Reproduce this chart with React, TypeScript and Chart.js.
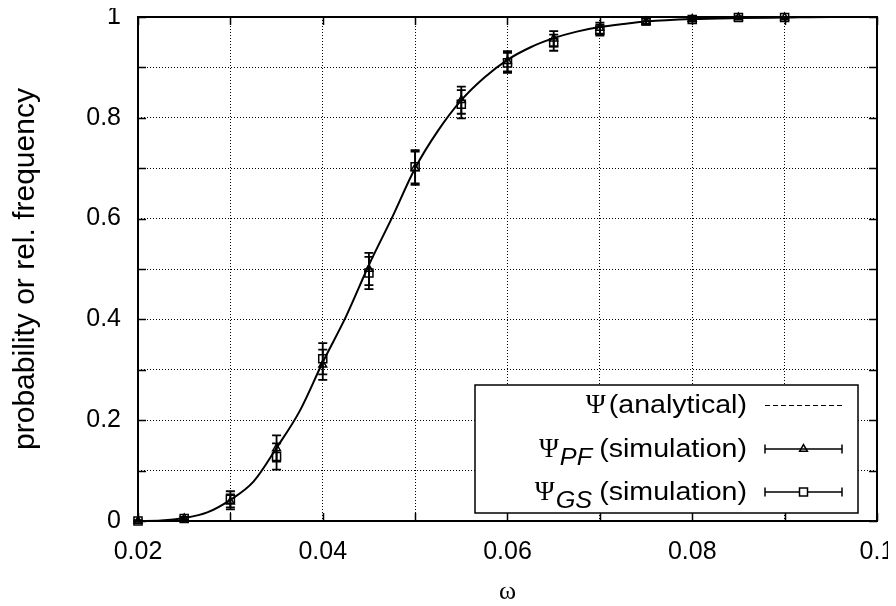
import React, { useEffect, useRef } from "react";
import { Chart, registerables } from "chart.js";

Chart.register(...registerables);

// ---- data ----
const omega = [0.02, 0.025, 0.03, 0.035, 0.04, 0.045, 0.05, 0.055, 0.06, 0.065, 0.07, 0.075, 0.08, 0.085, 0.09];
const psiPF = [0, 0.005, 0.038, 0.144, 0.31, 0.5, 0.7, 0.835, 0.912, 0.957, 0.978, 0.991, 0.996, 0.999, 0.999];
const errPF = [0.001, 0.003, 0.015, 0.026, 0.03, 0.032, 0.033, 0.027, 0.02, 0.015, 0.011, 0.006, 0.004, 0.002, 0.001];
const psiGS = [0, 0.005, 0.043, 0.128, 0.322, 0.492, 0.703, 0.827, 0.909, 0.949, 0.974, 0.992, 0.995, 0.999, 0.999];
const errGS = [0.001, 0.003, 0.016, 0.026, 0.031, 0.032, 0.033, 0.028, 0.02, 0.016, 0.011, 0.006, 0.004, 0.002, 0.001];

const curveOmega = [0.02, 0.0225, 0.025, 0.0275, 0.03, 0.0325, 0.035, 0.0375, 0.04, 0.0425, 0.045, 0.0475, 0.05, 0.0525, 0.055, 0.0575, 0.06, 0.0625, 0.065, 0.0675, 0.07, 0.0725, 0.075, 0.08, 0.085, 0.09, 0.095, 0.1];
const curvePsi = [0, 0.001, 0.006, 0.017, 0.042, 0.078, 0.145, 0.218, 0.315, 0.405, 0.508, 0.602, 0.7, 0.775, 0.835, 0.88, 0.915, 0.94, 0.958, 0.971, 0.98, 0.986, 0.991, 0.996, 0.998, 0.999, 1.0, 1.0];

const xTickLabels = ["0.02", "0.04", "0.06", "0.08", "0.1"];
const yTickLabels = ["0", "0.2", "0.4", "0.6", "0.8", "1"];

const xTitle = "ω";
const yTitle = "probability or rel. frequency";

const legendRows = [
  { sym: "Ψ", sub: "", text: "(analytical)" },
  { sym: "Ψ", sub: "PF", text: "(simulation)" },
  { sym: "Ψ", sub: "GS", text: "(simulation)" },
];

const SANS = "'Liberation Sans', Arial, Helvetica, sans-serif";
const SERIF = "'Liberation Serif', 'Times New Roman', serif";

function drawTriangle(ctx: CanvasRenderingContext2D, x: number, y: number, r: number) {
  ctx.beginPath();
  ctx.moveTo(x, y - r);
  ctx.lineTo(x + r * 0.866, y + r * 0.5);
  ctx.lineTo(x - r * 0.866, y + r * 0.5);
  ctx.closePath();
  ctx.stroke();
}

const noPad = (s: any) => {
  s.paddingLeft = 0;
  s.paddingRight = 0;
  s.paddingTop = 0;
  s.paddingBottom = 0;
};

// draw text horizontally stretched by sx, starting at x
function stretchText(ctx: CanvasRenderingContext2D, text: string, x: number, y: number, sx: number) {
  ctx.save();
  ctx.translate(x, y);
  ctx.scale(sx, 1);
  ctx.fillText(text, 0, 0);
  ctx.restore();
}

const decorPlugin = {
  id: "decor",
  afterDatasetsDraw(chart: any) {
    const ctx: CanvasRenderingContext2D = chart.ctx;
    const xs = chart.scales.x;
    const ys = chart.scales.y;
    ctx.save();
    ctx.strokeStyle = "#000";
    ctx.lineWidth = 1.8;
    const cap = 4.5;
    const series = [
      { v: psiPF, e: errPF },
      { v: psiGS, e: errGS },
    ];
    for (const s of series) {
      for (let i = 0; i < omega.length; i++) {
        const px = xs.getPixelForValue(omega[i]);
        const y1 = ys.getPixelForValue(s.v[i] - s.e[i]);
        const y2 = ys.getPixelForValue(s.v[i] + s.e[i]);
        ctx.beginPath();
        ctx.moveTo(px, y1);
        ctx.lineTo(px, y2);
        ctx.moveTo(px - cap, y1);
        ctx.lineTo(px + cap, y1);
        ctx.moveTo(px - cap, y2);
        ctx.lineTo(px + cap, y2);
        ctx.stroke();
      }
    }
    ctx.restore();
  },
  afterDraw(chart: any) {
    const ctx: CanvasRenderingContext2D = chart.ctx;
    const ca = chart.chartArea;
    const xs = chart.scales.x;
    const ys = chart.scales.y;
    ctx.save();
    // inward tick marks on all four sides
    ctx.strokeStyle = "#000";
    ctx.lineWidth = 1.5;
    const tl = 8;
    ctx.beginPath();
    for (const t of xs.ticks) {
      const px = Math.round(xs.getPixelForValue(t.value)) + 0.5;
      ctx.moveTo(px, ca.bottom);
      ctx.lineTo(px, ca.bottom - tl);
      ctx.moveTo(px, ca.top);
      ctx.lineTo(px, ca.top + tl);
    }
    for (const t of ys.ticks) {
      const py = Math.round(ys.getPixelForValue(t.value)) + 0.5;
      ctx.moveTo(ca.left, py);
      ctx.lineTo(ca.left + tl, py);
      ctx.moveTo(ca.right, py);
      ctx.lineTo(ca.right - tl, py);
    }
    ctx.stroke();

    // legend box
    const bx1 = ca.right - 19;
    const by1 = ca.bottom - 8;
    const bx0 = bx1 - 383;
    const by0 = by1 - 128;
    ctx.fillStyle = "#fff";
    ctx.fillRect(bx0, by0, bx1 - bx0, by1 - by0);
    ctx.lineWidth = 1.5;
    ctx.strokeRect(bx0, by0, bx1 - bx0, by1 - by0);

    const textRight = bx1 - 111;
    const sx0 = bx1 - 93;
    const sx1 = bx1 - 16;
    const smid = (sx0 + sx1) / 2;
    const rowYs = [by0 + 20, by0 + 64, by0 + 107];
    const SX = 1.1;
    ctx.fillStyle = "#000";
    ctx.textBaseline = "alphabetic";
    ctx.textAlign = "left";
    legendRows.forEach((row, i) => {
      const ry = rowYs[i];
      const base = ry + 8;
      const symFont = `27px ${SERIF}`;
      const subFont = `italic 23px ${SANS}`;
      const txtFont = `26px ${SANS}`;
      ctx.font = txtFont;
      const wTxt = ctx.measureText(row.text).width * SX;
      ctx.font = subFont;
      const wSub = row.sub ? ctx.measureText(row.sub).width * SX + 2 : 0;
      ctx.font = symFont;
      const wSym = ctx.measureText(row.sym).width;
      const gap = row.sub ? 6 : 3;
      let x = textRight - wTxt - gap - wSub - wSym;
      ctx.font = symFont;
      ctx.fillText(row.sym, x, base);
      x += wSym;
      if (row.sub) {
        ctx.font = subFont;
        stretchText(ctx, row.sub, x + 1, base + 8, SX);
        x += wSub;
      }
      x += gap;
      ctx.font = txtFont;
      stretchText(ctx, row.text, x, base, SX);

      // samples
      ctx.strokeStyle = "#000";
      if (i === 0) {
        ctx.lineWidth = 1;
        ctx.setLineDash([5, 3]);
        ctx.beginPath();
        ctx.moveTo(sx0, ry + 0.5);
        ctx.lineTo(sx1, ry + 0.5);
        ctx.stroke();
        ctx.setLineDash([]);
      } else {
        ctx.lineWidth = 1.5;
        ctx.beginPath();
        ctx.moveTo(sx0, ry);
        ctx.lineTo(sx1, ry);
        ctx.moveTo(sx0, ry - 4.5);
        ctx.lineTo(sx0, ry + 4.5);
        ctx.moveTo(sx1, ry - 4.5);
        ctx.lineTo(sx1, ry + 4.5);
        ctx.stroke();
        ctx.lineWidth = 1.5;
        if (i === 1) {
          drawTriangle(ctx, smid, ry, 4.5);
        } else {
          ctx.fillStyle = "#fff";
          ctx.fillRect(smid - 4, ry - 4, 8, 8);
          ctx.fillStyle = "#000";
          ctx.strokeRect(smid - 4, ry - 4, 8, 8);
        }
      }
    });

    // frame
    ctx.lineWidth = 2;
    ctx.strokeStyle = "#000";
    ctx.strokeRect(ca.left, ca.top, ca.right - ca.left, ca.bottom - ca.top);
    ctx.restore();
  },
};

export default function App() {
  const canvasRef = useRef<HTMLCanvasElement | null>(null);

  useEffect(() => {
    if (!canvasRef.current) return;
    const chart = new Chart(canvasRef.current, {
      type: "scatter",
      data: {
        datasets: [
          {
            label: "Ψ (analytical)",
            data: curveOmega.map((x, i) => ({ x, y: curvePsi[i] })),
            showLine: true,
            borderColor: "#000",
            borderWidth: 2,
            pointRadius: 0,
            cubicInterpolationMode: "monotone",
            clip: false,
          },
          {
            label: "ΨPF (simulation)",
            data: omega.map((x, i) => ({ x, y: psiPF[i] })),
            showLine: false,
            pointStyle: "triangle",
            pointRadius: 4.5,
            borderColor: "#000",
            backgroundColor: "rgba(0,0,0,0)",
            borderWidth: 1.5,
            clip: false,
          },
          {
            label: "ΨGS (simulation)",
            data: omega.map((x, i) => ({ x, y: psiGS[i] })),
            showLine: false,
            pointStyle: "rect",
            pointRadius: 5.7,
            borderColor: "#000",
            backgroundColor: "rgba(0,0,0,0)",
            borderWidth: 1.5,
            clip: false,
          },
        ] as any,
      },
      options: {
        animation: false,
        responsive: true,
        maintainAspectRatio: false,
        layout: { padding: { top: 9, right: 11, left: 0, bottom: 0 } },
        plugins: {
          legend: { display: false },
          tooltip: { enabled: false },
        },
        scales: {
          x: {
            type: "linear",
            min: 0.02,
            max: 0.1,
            afterFit: (s: any) => {
              s.height = 84;
              noPad(s);
            },
            ticks: {
              stepSize: 0.01,
              autoSkip: false,
              maxRotation: 0,
              padding: 16,
              color: "#000",
              font: { family: SANS, size: 25 },
              callback: (v: any) => {
                const l = String(+Number(v).toFixed(3));
                return xTickLabels.includes(l) ? l : "";
              },
            },
            grid: { color: "#000", lineWidth: 1, drawTicks: false },
            border: { display: false, dash: [1, 2] },
            title: {
              display: true,
              text: xTitle,
              color: "#000",
              font: { family: SERIF, size: 26, lineHeight: 1 },
              padding: 0,
            },
          },
          y: {
            type: "linear",
            min: 0,
            max: 1,
            afterFit: (s: any) => {
              s.width = 130;
              noPad(s);
            },
            ticks: {
              stepSize: 0.1,
              autoSkip: false,
              padding: 17,
              color: "#000",
              font: { family: SANS, size: 25 },
              callback: (v: any) => {
                const l = String(+Number(v).toFixed(2));
                return yTickLabels.includes(l) ? l : "";
              },
            },
            grid: { color: "#000", lineWidth: 1, drawTicks: false },
            border: { display: false, dash: [1, 2] },
            title: {
              display: true,
              text: yTitle,
              color: "#000",
              font: { family: SANS, size: 30, lineHeight: 1.1 },
              padding: { top: 1, bottom: 0 },
            },
          },
        },
      } as any,
      plugins: [decorPlugin],
    });
    return () => chart.destroy();
  }, []);

  return (
    <div style={{ width: 880, height: 597, position: "relative" }}>
      <canvas ref={canvasRef} />
    </div>
  );
}
